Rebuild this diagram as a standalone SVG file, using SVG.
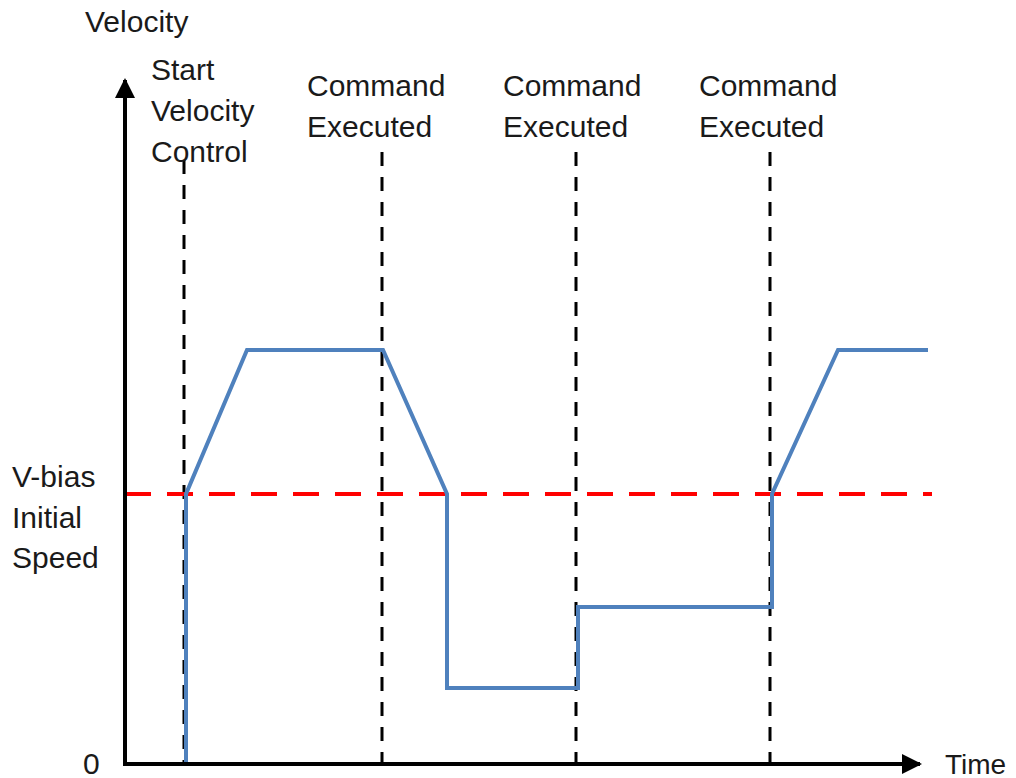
<svg xmlns="http://www.w3.org/2000/svg" width="1016" height="778" viewBox="0 0 1016 778">
<style>
text{font-family:"Liberation Sans",Arial,sans-serif;font-size:30px;fill:#1a1a1a}
.axis{stroke:#000;stroke-width:4;fill:none}
.guide{stroke:#000;stroke-width:3;stroke-dasharray:14 11;fill:none}
.bias{stroke:#ff0000;stroke-width:4;stroke-dasharray:26 16;fill:none}
.vel{stroke:#4f81bd;stroke-width:4;fill:none;stroke-linejoin:miter}
</style>
<defs>
<marker id="ah" viewBox="0 0 10 10" refX="9" refY="5" markerWidth="5" markerHeight="5" orient="auto" markerUnits="strokeWidth">
<path d="M0,0 L10,5 L0,10 z" fill="#000"/>
</marker>
</defs>
<g id="connectors">
<path class="guide" d="M184,160 V764"/>
<path class="guide" d="M382,152 V764"/>
<path class="guide" d="M576,152 V764"/>
<path class="guide" d="M770,152 V764"/>
<path class="bias" d="M125,494 H932"/>
<path class="vel" d="M186,764 V494 L247,350 H383 L447,494 V688 H578 V607 H772 V494 L838,350 H928"/>
<path class="axis" d="M125,764 V80" marker-end="url(#ah)"/>
<path class="axis" d="M123,764 H920" marker-end="url(#ah)"/>
</g>
<g id="labels">
<text x="85" y="32">Velocity</text>
<text x="151" y="80">Start</text>
<text x="151" y="121">Velocity</text>
<text x="151" y="162">Control</text>
<text x="307" y="96">Command</text>
<text x="307" y="137">Executed</text>
<text x="503" y="96">Command</text>
<text x="503" y="137">Executed</text>
<text x="699" y="96">Command</text>
<text x="699" y="137">Executed</text>
<text x="12" y="487">V-bias</text>
<text x="12" y="528">Initial</text>
<text x="12" y="568">Speed</text>
<text x="83" y="774">0</text>
<text x="945" y="774" style="font-size:28px">Time</text>
</g>
</svg>
